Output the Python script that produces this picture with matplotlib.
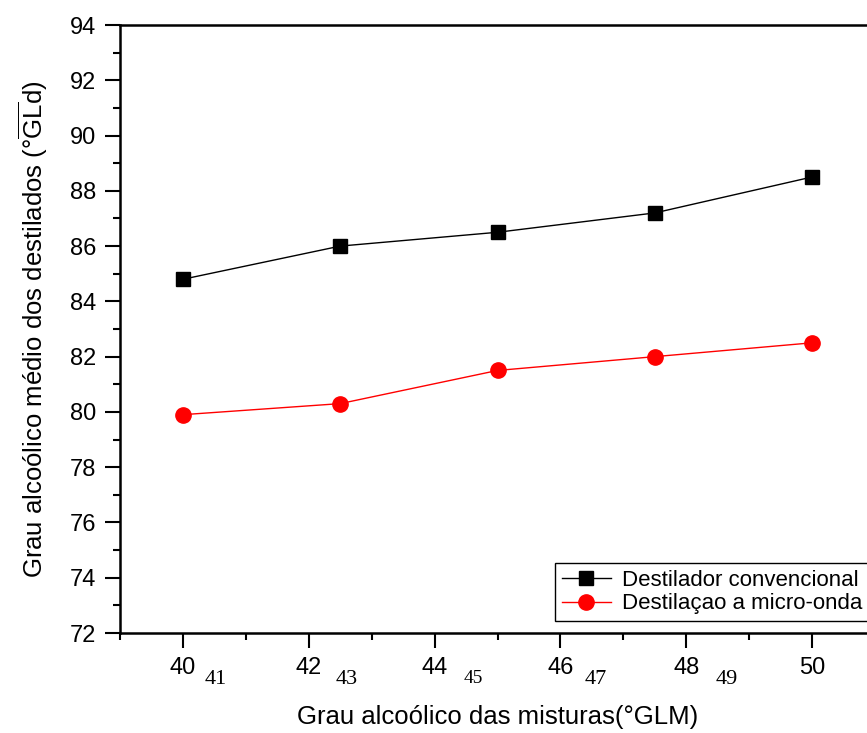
import matplotlib
matplotlib.use("Agg")
import matplotlib.pyplot as plt
from matplotlib.ticker import MultipleLocator

plt.rcParams['font.family'] = ['Liberation Sans', 'DejaVu Sans']
plt.rcParams['mathtext.fontset'] = 'custom'
plt.rcParams['mathtext.rm'] = 'Liberation Sans'

x_vals = [40, 42.5, 45, 47.5, 50]
conv = [84.8, 86.0, 86.5, 87.2, 88.5]
micro = [79.9, 80.3, 81.5, 82.0, 82.5]
extra_labels = ['41', '43', '45', '47', '49']
extra_x = [40.52, 42.6, 44.62, 46.56, 48.65]
extra_sizes = [16, 16, 14, 16, 16]

W, H = 867, 733
fig = plt.figure(figsize=(W / 100, H / 100), dpi=100)
ax = fig.add_axes([120 / W, (H - 633) / H, 755 / W, 608 / H])

ax.plot(x_vals, conv, color='black', lw=1, marker='s', ms=10,
        label='Destilador convencional')
ax.plot(x_vals, micro, color='red', lw=1, marker='o', ms=11,
        label='Destilaçao a micro-onda')

ax.set_xlim(39, 51)
ax.set_ylim(72, 94)
ax.xaxis.set_major_locator(MultipleLocator(2))
ax.xaxis.set_minor_locator(MultipleLocator(1))
ax.yaxis.set_major_locator(MultipleLocator(2))
ax.yaxis.set_minor_locator(MultipleLocator(1))
ax.tick_params(which='major', direction='out', length=11, width=1.5,
               labelsize=17, pad=6)
ax.tick_params(which='minor', direction='out', length=5, width=1.5)
for s in ax.spines.values():
    s.set_linewidth(1.8)

for lab, xx, fs in zip(extra_labels, extra_x, extra_sizes):
    ax.text(xx, 70.65, lab, family='Liberation Serif', fontsize=fs,
            ha='center', va='top', transform=ax.transData, clip_on=False)

ax.set_xlabel('Grau alcoólico das misturas(°GLM)', fontsize=18.5, labelpad=19)
ax.set_ylabel(r'Grau alcoólico médio dos destilados (°$\overline{\mathrm{GL}}$d)',
              fontsize=18.5, labelpad=14)

leg = ax.legend(loc='upper left', bbox_to_anchor=(555 / W, (H - 563) / H),
                bbox_transform=fig.transFigure, borderaxespad=0,
                fancybox=False, edgecolor='black', framealpha=1,
                fontsize=16, handlelength=2.2, handletextpad=0.5,
                labelspacing=0.12, borderpad=0.3)
leg.get_frame().set_linewidth(1.0)

fig.savefig('out.png', dpi=100)
